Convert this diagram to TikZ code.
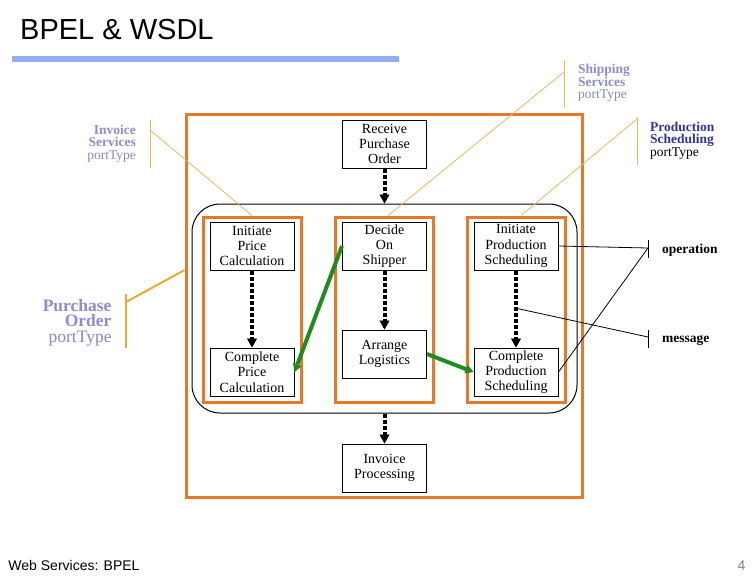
\documentclass[tikz,border=0pt]{standalone}
\usepackage{fontspec}
\setmainfont{Liberation Serif}
\newfontfamily\sansf{Liberation Sans}
\usetikzlibrary{arrows.meta,calc}
\definecolor{orangec}{RGB}{230,120,40}
\definecolor{calloutc}{RGB}{225,185,95}
\definecolor{pocallout}{RGB}{235,170,50}
\definecolor{lav}{RGB}{140,140,210}
\definecolor{lavpt}{RGB}{135,135,195}
\definecolor{darkblue}{RGB}{50,50,160}
\definecolor{greenc}{RGB}{30,140,30}
\definecolor{bluebar}{RGB}{150,172,240}
\begin{document}
\begin{tikzpicture}[x=1pt,y=-1pt,
  stepbox/.style={draw,line width=1pt,fill=white,minimum width=84pt,minimum height=48pt,inner sep=0pt,align=center,font=\fontsize{14}{15.3}\selectfont},
  column/.style={draw=orangec,line width=3pt,minimum width=98pt,minimum height=185pt,inner sep=0pt},
  flow/.style={line width=4pt,dash pattern=on 4pt off 2pt,-{Triangle[length=9pt,width=10pt,line width=0.5pt]}},
  greenflow/.style={draw=greenc,line width=4pt,-{Triangle[length=8pt,width=9pt,line width=0.5pt]}},
  callout/.style={draw=calloutc,line width=0.8pt},
  thinline/.style={draw=black,line width=0.8pt},
  lbl/.style={inner sep=0pt,font=\fontsize{13.5}{12.5}\selectfont},
]
\useasboundingbox (0,0) rectangle (756,576);

% title
\node[anchor=base west,inner sep=0pt,font=\sansf\fontsize{29}{29}\selectfont] (title) at (20,39.5) {BPEL \& WSDL};
\draw[bluebar,line width=6pt] (11.7,59) -- (399.3,59);

% containers
\node[draw=orangec,line width=3pt,minimum width=396pt,minimum height=383pt,inner sep=0pt] (outer) at (384,305.5) {};
\node[draw,line width=1pt,rounded corners=28pt,minimum width=385pt,minimum height=209pt,inner sep=0pt] (round) at (384.5,308.5) {};
\node[column] (colL) at (252,309.5) {};
\node[column] (colM) at (384,309.5) {};
\node[column] (colR) at (516,309.5) {};

% steps
\node[stepbox] (recv) at (384.5,144) {Receive\\Purchase\\Order};
\node[stepbox] (ipc) at (252,246) {Initiate\\Price\\Calculation};
\node[stepbox] (cpc) at (252,372) {Complete\\Price\\Calculation};
\node[stepbox] (decide) at (384.5,246) {Decide\\On\\Shipper};
\node[stepbox] (arrange) at (384.5,354) {Arrange\\Logistics};
\node[stepbox] (ips) at (516,246) {Initiate\\Production\\Scheduling};
\node[stepbox] (cps) at (516,372) {Complete\\Production\\Scheduling};
\node[stepbox] (inv) at (384.5,468) {Invoice\\Processing};

% control flow
\draw[flow] (recv) -- (round.north);
\draw[flow] (ipc) -- (cpc);
\draw[flow] (decide) -- (arrange);
\draw[flow] (ips) -- (cps);
\draw[flow] (round.south) -- (inv);

% data links
\draw[greenflow] (decide.west) -- (cpc.east);
\draw[greenflow] (arrange.east) -- (cps.west);

% port type callouts
\coordinate (shipTick) at (564,72);
\draw[callout] ([yshift=12pt]shipTick) -- ([yshift=-36pt]shipTick);
\draw[callout] (shipTick) -- ([xshift=4pt]colM.north);
\node[lbl,anchor=north west,align=left] (shiplbl) at (578,64) {\textcolor{lav}{\textbf{Shipping}}\\\textcolor{lav}{\textbf{Services}}\\\textcolor{lavpt}{portType}};

\coordinate (prodTick) at (637,119);
\draw[callout] ([yshift=2pt]prodTick) -- ([yshift=-46pt]prodTick);
\draw[callout] (prodTick) -- ([xshift=5pt]colR.north);
\node[lbl,anchor=north west,align=left] (prodlbl) at (650,121.5) {\textcolor{darkblue}{\textbf{Production}}\\\textcolor{darkblue}{\textbf{Scheduling}}\\portType};

\coordinate (invTick) at (150,130);
\draw[callout] ([yshift=10pt]invTick) -- ([yshift=-38pt]invTick);
\draw[callout] (invTick) -- (colL.north);
\node[lbl,anchor=north east,align=right] (invlbl) at (136,124.5) {\textcolor{lav}{\textbf{Invoice}}\\\textcolor{lav}{\textbf{Services}}\\\textcolor{lavpt}{portType}};

\coordinate (poTick) at (126,302);
\draw[draw=pocallout,line width=2pt] ([yshift=8pt]poTick) -- ([yshift=-46pt]poTick);
\draw[draw=pocallout,line width=2pt] (poTick) -- ([yshift=35.5pt]outer.west);
\node[inner sep=0pt,font=\fontsize{17.5}{15.8}\selectfont,anchor=north east,align=right] (polbl) at (111.7,298.8) {\textcolor{lav}{\textbf{Purchase}}\\\textcolor{lav}{\textbf{Order}}\\\textcolor{lavpt}{portType}};

% operation / message
\coordinate (opTick) at (648,248);
\coordinate (msgTick) at (648,337);
\coordinate (msgSrc) at ($(ips.south)!0.49!(cps.north)$);
\draw[thinline] ([yshift=8pt]opTick) -- ([yshift=-10pt]opTick);
\draw[thinline] ([yshift=7pt]msgTick) -- ([yshift=-11pt]msgTick);
\draw[thinline] (ips.east) -- (opTick);
\draw[thinline] (cps.east) -- (opTick);
\draw[thinline] (msgSrc) -- (msgTick);
\node[anchor=base west,inner sep=0pt,font=\bfseries\fontsize{13.5}{15}\selectfont] (oplbl) at (662,253.3) {operation};
\node[anchor=base west,inner sep=0pt,font=\bfseries\fontsize{13.5}{15}\selectfont] (msglbl) at (662,342.7) {message};

% footer
\node[anchor=base west,inner sep=0pt,font=\sansf\fontsize{14}{14}\selectfont] (footer) at (8.3,570.5) {Web Services: BPEL};
\node[anchor=base east,inner sep=0pt,text=gray,font=\sansf\fontsize{14}{14}\selectfont] (pagenum) at (745.5,570.5) {4};
\end{tikzpicture}
\end{document}
